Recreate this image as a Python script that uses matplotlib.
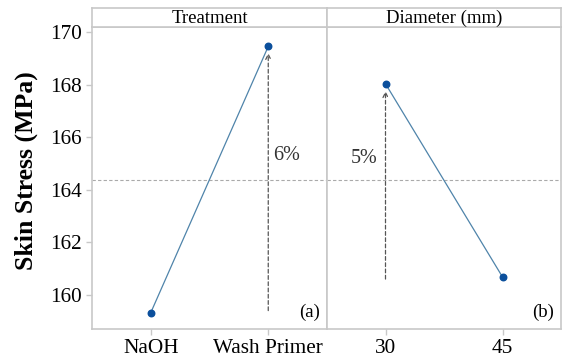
import matplotlib
matplotlib.use("Agg")
import matplotlib.pyplot as plt

plt.rcParams['font.family'] = ['Liberation Serif', 'DejaVu Serif']

# Main-effects data
treatment_levels = ["NaOH", "Wash Primer"]
treatment_means = [159.32, 169.45]
diameter_levels = ["30", "45"]
diameter_means = [168.03, 160.68]
grand_mean = 164.38
y_ticks = [160, 162, 164, 166, 168, 170]

panels = [
    ("Treatment", treatment_levels, treatment_means, "(a)", "6%", (1, 159.4, 169.2), (1.16, 165.32)),
    ("Diameter (mm)", diameter_levels, diameter_means, "(b)", "5%", (0, 160.6, 167.75), (-0.18, 165.2)),
]

W, H = 563, 358
fig = plt.figure(figsize=(W / 100, H / 100), dpi=100)
grey = "#c8c8c8"
line_c = "#4f84aa"
mark_c = "#0b4f9c"

left_px, mid_px, right_px = 92, 327, 561
top_px, bot_px, head_px = 27, 329, 8

for i, (title, levels, means, tag, pct, arrow, pct_pos) in enumerate(panels):
    x0 = [left_px, mid_px][i]
    x1 = [mid_px, right_px][i]
    ax = fig.add_axes([x0 / W, 1 - bot_px / H, (x1 - x0) / W, (bot_px - top_px) / H])
    ax.set_xlim(-0.5, 1.5)
    ax.set_ylim(158.7, 170.19)
    ax.axhline(grand_mean, color="#aaaaaa", ls=(0, (3, 2)), lw=0.8, zorder=1)
    ax.plot(range(len(levels)), means, color=line_c, lw=0.9, zorder=3)
    ax.scatter(range(len(levels)), means, color=mark_c, s=22, zorder=4)
    ax.annotate("", xy=(arrow[0], arrow[2]), xytext=(arrow[0], arrow[1]),
                arrowprops=dict(arrowstyle="->", color="#555555", lw=0.9, ls=(0, (3, 2)),
                                shrinkA=0, shrinkB=0, mutation_scale=9), zorder=2)
    ax.text(pct_pos[0], pct_pos[1], pct, fontsize=14.5, color="#333333", ha="center", va="center")
    ax.text(0.97, 0.025, tag, transform=ax.transAxes, fontsize=13.5, ha="right", va="bottom")
    ax.set_xticks(range(len(levels)))
    ax.set_xticklabels(levels, fontsize=15.3)
    for s in ax.spines.values():
        s.set_color(grey)
        s.set_linewidth(1.2)
    ax.tick_params(axis="both", colors=grey, labelcolor="black", length=4, width=1)
    if i == 0:
        ax.set_yticks(y_ticks)
        ax.set_yticklabels([str(t) for t in y_ticks], fontsize=15.3)
        ax.set_ylabel("Skin Stress (MPa)", fontsize=18.5, fontweight="bold", va="center")
        ax.yaxis.set_label_coords(-0.281, 0.526)
    else:
        ax.set_yticks([])
    # header strip
    hx = fig.add_axes([x0 / W, 1 - top_px / H, (x1 - x0) / W, (top_px - head_px) / H])
    hx.set_xticks([]); hx.set_yticks([])
    for s in hx.spines.values():
        s.set_color(grey)
        s.set_linewidth(1.2)
    hx.text(0.5, 0.45, title, fontsize=13.5, ha="center", va="center", transform=hx.transAxes)

fig.savefig("out.png", dpi=100)
